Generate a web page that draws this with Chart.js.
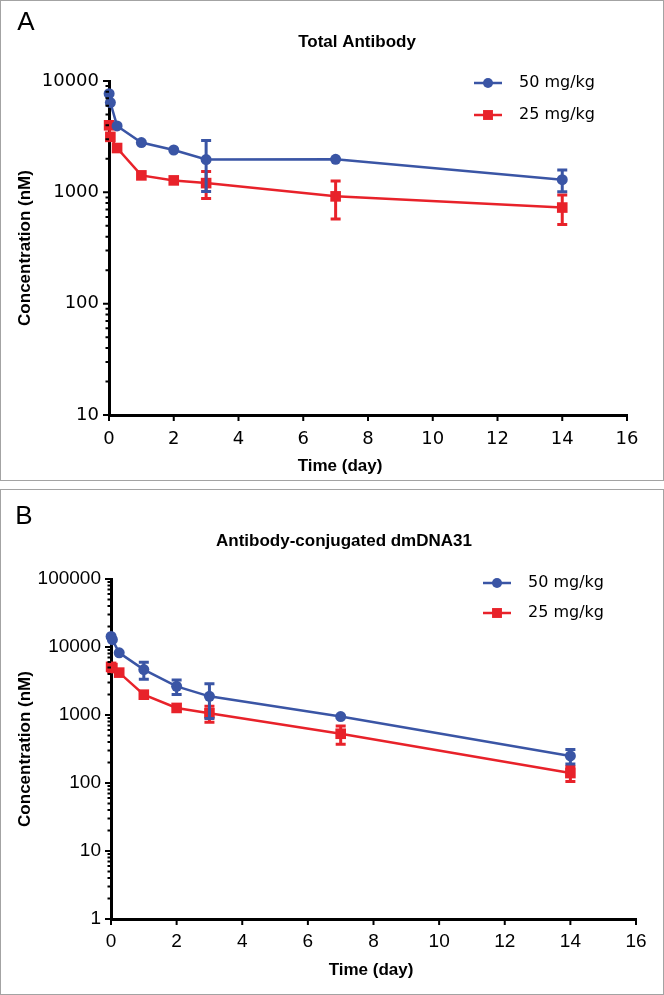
<!DOCTYPE html>
<html>
<head>
<meta charset="utf-8">
<script src="https://cdn.jsdelivr.net/npm/chart.js@4.4.1/dist/chart.umd.min.js"></script>
<style>
  body { margin: 0; background: #fff; }
  .frame { position: absolute; border: 1.5px solid #a3a3a3; box-sizing: border-box; }
  .box { position: absolute; left: 0; width: 664px; }
</style>
</head>
<body>
<div class="frame" style="left:0;top:0;width:664px;height:481px"></div>
<div class="frame" style="left:0;top:489px;width:664px;height:506px"></div>
<div class="box" style="top:0;height:480px"><canvas id="chartA"></canvas></div>
<div class="box" style="top:490px;height:505px"><canvas id="chartB"></canvas></div>
<script>
// sampling times (day)
const days = [0.0035, 0.042, 0.25, 1, 2, 3, 7, 14];

// A: total antibody (nM), mean and SD
const totalAb50 = [7700, 6400, 3950, 2800, 2400, 1970, 1980, 1300];
const totalAb50Sd = [0, 0, 0, 0, 0, 950, 0, 290];
const totalAb25 = [4000, 3150, 2500, 1420, 1280, 1210, 920, 730];
const totalAb25Sd = [0, 0, 0, 0, 0, 330, 345, 215];

// B: antibody-conjugated dmDNA31 (nM), mean and SD
const conj50 = [14300, 12800, 8200, 4650, 2640, 1880, 950, 250];
const conj50Sd = [0, 0, 0, 1300, 640, 990, 0, 60];
const conj25 = [5100, 4900, 4200, 1990, 1270, 1060, 530, 140];
const conj25Sd = [0, 0, 0, 0, 0, 280, 160, 35];

const xTicks = [0, 2, 4, 6, 8, 10, 12, 14, 16];

const blue = '#3a55a5';
const red = '#e8222a';

function series(values) {
  return values.map((v, i) => ({ x: days[i], y: v }));
}

function isPow10(v) {
  const l = Math.log10(v);
  return Math.abs(l - Math.round(l)) < 1e-9;
}

// error bars drawn from the sd array of each dataset
const errorBars = {
  id: 'errorBars',
  afterDatasetsDraw(chart) {
    const ctx = chart.ctx, ys = chart.scales.y;
    for (let d = chart.data.datasets.length - 1; d >= 0; d--) {
      const ds = chart.data.datasets[d];
      const meta = chart.getDatasetMeta(d);
      ctx.save();
      ctx.strokeStyle = ds.borderColor;
      ctx.lineWidth = 3;
      meta.data.forEach((pt, i) => {
        const sd = ds.sd[i];
        if (!sd) return;
        const v = ds.data[i].y;
        const top = ys.getPixelForValue(v + sd);
        const bot = ys.getPixelForValue(v - sd);
        ctx.beginPath();
        ctx.moveTo(pt.x, top); ctx.lineTo(pt.x, bot);
        ctx.moveTo(pt.x - 5, top); ctx.lineTo(pt.x + 5, top);
        ctx.moveTo(pt.x - 5, bot); ctx.lineTo(pt.x + 5, bot);
        ctx.stroke();
      });
      ctx.restore();
    }
  }
};

// outward tick marks, minor ones shorter on the log axis
const axisTicks = {
  id: 'axisTicks',
  afterDraw(chart) {
    const { ctx, chartArea: a, scales: { x, y } } = chart;
    ctx.save();
    ctx.strokeStyle = '#000';
    ctx.lineWidth = 2;
    ctx.beginPath();
    x.ticks.forEach(t => {
      const px = x.getPixelForValue(t.value);
      ctx.moveTo(px, a.bottom); ctx.lineTo(px, a.bottom + 6);
    });
    y.ticks.forEach(t => {
      const py = y.getPixelForValue(t.value);
      const len = isPow10(t.value) ? 6 : 3.5;
      ctx.moveTo(a.left, py); ctx.lineTo(a.left - len, py);
    });
    ctx.stroke();
    ctx.restore();
  }
};

// panel letter, title, x title and legend
const panelText = {
  id: 'panelText',
  afterDraw(chart, args, o) {
    const ctx = chart.ctx;
    ctx.save();
    ctx.fillStyle = '#000';
    ctx.textBaseline = 'middle';
    ctx.textAlign = 'center';
    ctx.font = '26px "Liberation Sans", Arial, sans-serif';
    ctx.fillText(o.letter, o.letterX, o.letterY);
    ctx.font = 'bold 17px "Liberation Sans", Arial, sans-serif';
    ctx.fillText(o.title, o.titleX, o.titleY);
    ctx.fillText(o.xTitle, o.xTitleX, o.xTitleY);
    ctx.textAlign = 'left';
    ctx.font = '16px "DejaVu Sans", sans-serif';
    chart.data.datasets.forEach((ds, i) => {
      const ly = o.legendY + i * o.legendGap;
      ctx.strokeStyle = ds.borderColor;
      ctx.fillStyle = ds.backgroundColor;
      ctx.lineWidth = 2.5;
      ctx.beginPath();
      ctx.moveTo(o.legendX, ly); ctx.lineTo(o.legendX + 28, ly);
      ctx.stroke();
      Chart.helpers.drawPoint(ctx, { pointStyle: ds.pointStyle, radius: ds.pointRadius - 0.5, borderWidth: 0, rotation: 0 }, o.legendX + 14, ly);
      ctx.fillStyle = '#000';
      ctx.fillText(ds.label, o.legendX + 45, ly);
    });
    ctx.restore();
  }
};

function makePanel(id, p) {
  return new Chart(document.getElementById(id), {
    type: 'line',
    data: {
      datasets: [{
        label: '50 mg/kg',
        data: series(p.high),
        sd: p.highSd,
        borderColor: blue,
        backgroundColor: blue,
        borderWidth: 2.5,
        pointStyle: 'circle',
        pointRadius: 5.5,
        pointBorderWidth: 0,
        tension: 0,
        clip: false
      }, {
        label: '25 mg/kg',
        data: series(p.low),
        sd: p.lowSd,
        borderColor: red,
        backgroundColor: red,
        borderWidth: 2.5,
        pointStyle: 'rect',
        pointRadius: 7.5,
        pointBorderWidth: 0,
        tension: 0,
        clip: false
      }]
    },
    options: {
      responsive: true,
      maintainAspectRatio: false,
      animation: false,
      events: [],
      layout: { padding: { top: p.padTop, right: p.padRight, left: 0, bottom: 0 } },
      plugins: {
        legend: { display: false },
        tooltip: { enabled: false },
        panelText: p.text
      },
      scales: {
        x: {
          type: 'linear',
          min: 0,
          max: 16,
          afterFit: s => { s.height = p.xHeight; },
          afterBuildTicks: s => { s.ticks = xTicks.map(v => ({ value: v })); },
          border: { color: '#000', width: 3 },
          grid: { display: false, drawTicks: true, tickLength: 6 },
          ticks: { padding: p.xPad, color: '#000', font: p.tickFont }
        },
        y: {
          type: 'logarithmic',
          min: p.yMin,
          max: p.yMax,
          afterFit: s => { s.width = p.yWidth; },
          afterBuildTicks: s => {
            const t = [];
            for (let e = Math.round(Math.log10(p.yMin)); e <= Math.round(Math.log10(p.yMax)); e++) {
              for (let m = 1; m <= 9; m++) {
                const v = m * Math.pow(10, e);
                if (v <= p.yMax) t.push({ value: v });
              }
            }
            s.ticks = t;
          },
          border: { color: '#000', width: 3 },
          grid: { display: false, drawTicks: true, tickLength: 6 },
          ticks: {
            autoSkip: false,
            padding: 4,
            color: '#000',
            font: p.tickFont,
            callback: v => isPow10(v) ? String(Math.round(v)) : ''
          },
          title: {
            display: true,
            text: 'Concentration (nM)',
            color: '#000',
            font: { family: '"Liberation Sans", Arial, sans-serif', size: 17, weight: 'bold' },
            padding: { top: 15, bottom: 0 }
          }
        }
      }
    },
    plugins: [errorBars, axisTicks, panelText]
  });
}

makePanel('chartA', {
  high: totalAb50, highSd: totalAb50Sd, low: totalAb25, lowSd: totalAb25Sd,
  yMin: 10, yMax: 10000,
  padTop: 81, padRight: 37, yWidth: 109, xHeight: 65, xPad: 8,
  tickFont: { family: '"DejaVu Sans", sans-serif', size: 18 },
  text: {
    letter: 'A', letterX: 26, letterY: 23,
    title: 'Total Antibody', titleX: 357, titleY: 42,
    xTitle: 'Time (day)', xTitleX: 340, xTitleY: 466,
    legendX: 474, legendY: 83, legendGap: 32
  }
});

makePanel('chartB', {
  high: conj50, highSd: conj50Sd, low: conj25, lowSd: conj25Sd,
  yMin: 1, yMax: 100000,
  padTop: 89, padRight: 28, yWidth: 111, xHeight: 76, xPad: 5,
  tickFont: { family: '"Liberation Sans", Arial, sans-serif', size: 19 },
  text: {
    letter: 'B', letterX: 24, letterY: 27,
    title: 'Antibody-conjugated dmDNA31', titleX: 344, titleY: 51,
    xTitle: 'Time (day)', xTitleX: 371, xTitleY: 480,
    legendX: 483, legendY: 93, legendGap: 30
  }
});
</script>
</body>
</html>
